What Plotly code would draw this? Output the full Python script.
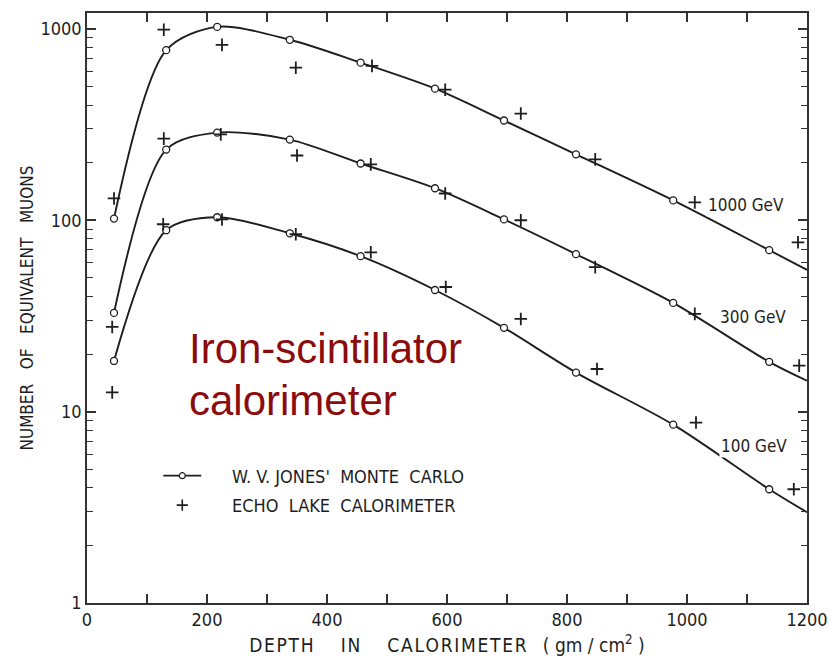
import math
import plotly.graph_objects as go

# Monte Carlo (W. V. Jones) longitudinal shower profiles: depth in gm/cm^2
mc_depth = [45, 132, 217, 338, 456, 580, 695, 815, 977, 1137, 1200]
mc_1000 = [102, 774, 1024, 877, 666, 487, 332, 221, 127, 69.8, 55]
mc_300 = [32.8, 234, 287, 264, 198, 147, 101, 66.5, 37, 18.2, 14.5]
mc_100 = [18.4, 88.7, 103.7, 85.5, 64.9, 43.2, 27.4, 16.0, 8.55, 3.93, 2.98]
# the last depth is where each curve meets the right frame (no circle drawn there)
n_circles = 10

# Echo Lake calorimeter measurements
el_depth_1000 = [45, 128, 225, 348, 475, 597, 723, 847, 1013, 1185]
el_1000 = [130, 990, 825, 627, 641, 481, 361, 208, 124, 76.7]
el_depth_300 = [42, 128, 223, 350, 473, 597, 723, 847, 1013, 1187]
el_300 = [27.7, 267, 281, 218, 196, 138, 100, 56.9, 32.4, 17.4]
el_depth_100 = [42, 127, 225, 348, 473, 598, 723, 850, 1015, 1178]
el_100 = [12.6, 95.3, 101, 84.5, 68, 44.8, 30.5, 16.7, 8.77, 3.93]

energy_labels = ["1000 GeV", "300 GeV", "100 GeV"]
label_depth = [1098, 1110, 1112]
label_value = [120, 31.3, 6.6]

x_ticks = [0, 200, 400, 600, 800, 1000, 1200]
y_ticks = [1, 10, 100, 1000]

ink = "#1e1e1e"
font_main = "Liberation Sans Narrow, DejaVu Sans Condensed, Arial Narrow, sans-serif"
NB = "\u00a0"
HS = "\u200a"  # hair space for letter spacing


def spaced(word):
    return HS.join(word)


fig = go.Figure()

mc_series = [mc_1000, mc_300, mc_100]
el_series = [(el_depth_1000, el_1000), (el_depth_300, el_300), (el_depth_100, el_100)]

for vals in mc_series:
    # smooth curve through all points
    fig.add_trace(go.Scatter(
        x=mc_depth, y=vals, mode="lines",
        line=dict(color=ink, width=1.9, shape="spline", smoothing=0.85),
        showlegend=False, hoverinfo="skip"))
    # open circles at the Monte Carlo points
    fig.add_trace(go.Scatter(
        x=mc_depth[:n_circles], y=vals[:n_circles], mode="markers",
        marker=dict(symbol="circle", size=7, color="white",
                    line=dict(color=ink, width=1.3)),
        showlegend=False))

for dx, vals in el_series:
    fig.add_trace(go.Scatter(
        x=dx, y=vals, mode="markers",
        marker=dict(symbol="cross-thin", size=9,
                    line=dict(color=ink, width=1.8)),
        showlegend=False))

# legend entries
fig.add_trace(go.Scatter(
    x=[None], y=[None], mode="lines+markers",
    line=dict(color=ink, width=1.8),
    marker=dict(symbol="circle", size=6, color="white", line=dict(color=ink, width=1.2)),
    name=NB * 5 + "W. V. JONES'" + NB * 2 + "MONTE" + NB * 2 + "CARLO", legendgroup="a"))
fig.add_trace(go.Scatter(
    x=[None], y=[None], mode="markers",
    marker=dict(symbol="cross-thin", size=8, line=dict(color=ink, width=1.6)),
    name=NB * 5 + "ECHO" + NB * 2 + "LAKE" + NB * 2 + "CALORIMETER", legendgroup="b"))

for txt, dx, v in zip(energy_labels, label_depth, label_value):
    fig.add_annotation(x=dx, y=math.log10(v), xref="x", yref="y", text=txt,
                       showarrow=False, bgcolor="white",
                       font=dict(family=font_main, size=17, color=ink))

red_font = dict(family="Arial, Liberation Sans, sans-serif", size=42, color="#8b0c0c")
fig.add_annotation(x=0.139, y=(603 - 348) / 592, xref="paper", yref="paper",
                   xanchor="left", yanchor="middle", text="Iron-scintillator",
                   showarrow=False, font=red_font)
fig.add_annotation(x=0.139, y=(603 - 400) / 592, xref="paper", yref="paper",
                   xanchor="left", yanchor="middle", text="calorimeter",
                   showarrow=False, font=red_font)

axis_common = dict(
    showline=True, linecolor="#333", linewidth=1.5, mirror="ticks",
    ticks="inside", tickcolor="#333", tickwidth=1.5, ticklen=9,
    showgrid=False, zeroline=False,
    tickfont=dict(family=font_main, size=18, color=ink),
)

x_title = (spaced("DEPTH") + NB * 5 + spaced("IN") + NB * 5 + spaced("CALORIMETER") + NB * 3
           + "(" + NB + "gm" + NB + "/" + NB + "cm<sup>2</sup>" + NB + ")")

fig.update_xaxes(
    range=[0, 1200], tickvals=x_ticks,
    minor=dict(dtick=100, ticks="inside", ticklen=9, tickcolor="#333", tickwidth=1.5, showgrid=False),
    title=dict(text=x_title, font=dict(family=font_main, size=19, color=ink), standoff=9),
    **axis_common)

fig.update_yaxes(
    type="log", range=[0, 3.083], tickvals=y_ticks, ticktext=[str(t) for t in y_ticks],
    minor=dict(dtick="D1", ticks="inside", ticklen=6, tickcolor="#333", tickwidth=1.3, showgrid=False),
    title=dict(text="NUMBER" + NB * 3 + "OF" + NB * 3 + "EQUIVALENT" + NB * 3 + "MUONS",
               font=dict(family=font_main, size=17, color=ink), standoff=2),
    **axis_common)

fig.update_layout(
    width=840, height=664,
    margin=dict(l=87, r=33, t=11, b=61),
    paper_bgcolor="white", plot_bgcolor="white",
    legend=dict(x=0.099, y=0.2466, xanchor="left", yanchor="top",
                bgcolor="rgba(0,0,0,0)", tracegroupgap=3, itemwidth=38,
                traceorder="grouped",
                font=dict(family=font_main, size=18, color=ink)),
)

fig.write_html("out.html")
